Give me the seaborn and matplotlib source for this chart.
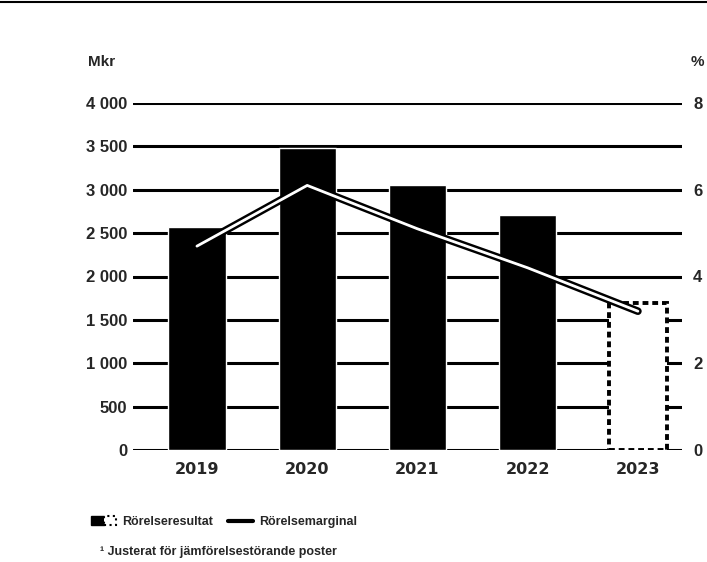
import numpy as np
import matplotlib
matplotlib.use("Agg")
import matplotlib.pyplot as plt
import matplotlib.patheffects as pe
from matplotlib.patches import Patch
from matplotlib.lines import Line2D
from matplotlib.legend_handler import HandlerTuple
import seaborn as sns
import pandas as pd

# values
years = ["2019", "2020", "2021", "2022", "2023"]
rorelseresultat = [2570, 3480, 3050, 2710, 1700]   # Mkr
rorelsemarginal = [4.7, 6.1, 5.1, 4.2, 3.2]        # %
left_ticks = [0, 500, 1000, 1500, 2000, 2500, 3000, 3500, 4000]
left_labels = ["0", "500", "1 000", "1 500", "2 000", "2 500", "3 000", "3 500", "4 000"]
right_ticks = [0, 2, 4, 6, 8]

sns.set_style("white")
plt.rcParams["font.family"] = ["Liberation Sans", "DejaVu Sans"]
plt.rcParams["font.weight"] = "bold"

df = pd.DataFrame({"year": years, "resultat": rorelseresultat, "marginal": rorelsemarginal})

fig = plt.figure(figsize=(7.07, 5.62), dpi=100)
ax = fig.add_axes([133 / 707, 1 - 450 / 562, 549 / 707, 347 / 562])

# gridlines under the bars
for t in left_ticks:
    ax.axhline(t, color="black", lw=2.2, zorder=0)

sns.barplot(data=df, x="year", y="resultat", color="black", width=0.52,
            saturation=1, ax=ax, zorder=2)
last = ax.patches[-1]
last.set_facecolor("white")
last.set_edgecolor("black")
last.set_linewidth(2.8)
last.set_linestyle((0, (1.5, 1)))

ax.set_ylim(0, 4000)
ax.set_xlim(-0.58, 4.4)
ax.set_yticks(left_ticks)
ax.set_yticklabels(left_labels, fontsize=12, fontweight="bold")
ax.tick_params(axis="y", length=0, pad=4)
ax.tick_params(axis="x", length=0, pad=9)
for lab in ax.get_xticklabels():
    lab.set_fontfamily("DejaVu Sans")
    lab.set_fontsize(11.5)
    lab.set_fontweight("bold")
ax.set_xlabel("")
ax.set_ylabel("")
for s in ax.spines.values():
    s.set_visible(False)

# margin line on the right axis
ax2 = ax.twinx()
sns.lineplot(x=np.arange(len(years)), y=rorelsemarginal, ax=ax2, color="white",
             lw=2, zorder=5,
             path_effects=[pe.Stroke(linewidth=5.5, foreground="black"), pe.Normal()])
ax2.set_ylim(0, 8)
ax2.set_yticks(right_ticks)
ax2.set_yticklabels([str(t) for t in right_ticks], fontsize=12, fontweight="bold")
ax2.tick_params(axis="y", length=0, pad=8)
for s in ax2.spines.values():
    s.set_visible(False)
ax2.set_xlim(-0.58, 4.4)

fig.text(88 / 707, 1 - 62 / 562, "Mkr", fontsize=11, fontweight="bold", va="center")
fig.text(691 / 707, 1 - 62 / 562, "%", fontsize=11, fontweight="bold", va="center")

# top rule from the page
fig.add_artist(Line2D([0, 1], [0.996, 0.996], color="black", lw=1.5,
                      transform=fig.transFigure))

bar_handle = (Patch(facecolor="black", edgecolor="black"),
              Patch(facecolor="white", edgecolor="black", linestyle=":", lw=1.5))
line_handle = Line2D([], [], color="black", lw=3)
fig.legend([bar_handle, line_handle], ["Rörelseresultat", "Rörelsemarginal"],
           handler_map={tuple: HandlerTuple(ndivide=None, pad=0)},
           loc="center left", bbox_to_anchor=(80 / 707, 1 - 522 / 562), ncol=2,
           frameon=False, prop={"size": 9, "weight": "bold"},
           handlelength=2.0, handletextpad=0.5, columnspacing=1.2)
fig.text(100 / 707, 1 - 552 / 562, "¹ Justerat för jämförelsestörande poster",
         fontsize=9, fontweight="bold", va="center")

fig.savefig("out.png", dpi=100)
